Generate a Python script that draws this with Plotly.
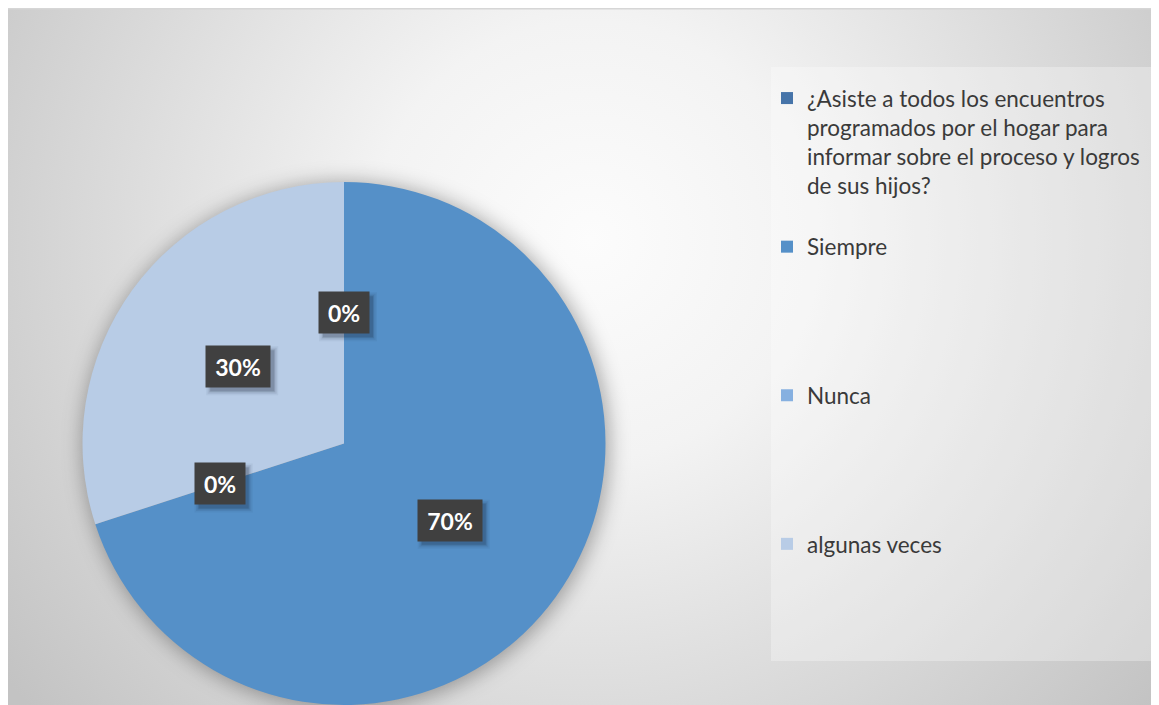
import base64
import math
import plotly.graph_objects as go

# ---- data ----
categories = [
    "¿Asiste a todos los encuentros programados por el hogar para informar sobre el proceso y logros de sus hijos?",
    "Siempre",
    "Nunca",
    "algunas veces",
]
legend_lines = [
    ["¿Asiste a todos los encuentros", "programados por el hogar para",
     "informar sobre el proceso y logros", "de sus hijos?"],
    ["Siempre"],
    ["Nunca"],
    ["algunas veces"],
]
values = [0, 70, 0, 30]
colors = ["#4674A9", "#5590C8", "#86B0E0", "#B8CCE6"]

W, H = 1159, 705
OFF = 8  # page body margin: figure is drawn starting 8px right/down
def fx(px):  # reference pixel x -> paper
    return (px - OFF) / W
def fy(py):  # reference pixel y -> paper
    return 1 - (py - OFF) / H

# pie domain (ref px)
PX0, PX1, PY0, PY1 = 82, 606, 182, 705
cx_px = (PX0 + PX1) / 2
cy_px = (PY0 + PY1) / 2
R = min(PX1 - PX0, PY1 - PY0) / 2

LINES_PER_ITEM = 5
names = []
for lines in legend_lines:
    pad = ["&#160;"] * (LINES_PER_ITEM - len(lines))
    names.append("<br>".join(['<span style="font-size:22.5px">%s</span>' % l for l in lines] + pad))

# background svg: radial gradient + pie shadow (covers full figure)
aw, ah = W, H
svg = f'''<svg xmlns="http://www.w3.org/2000/svg" width="{aw}" height="{ah}" viewBox="0 0 {aw} {ah}">
<defs>
<radialGradient id="g" gradientUnits="userSpaceOnUse" cx="{590 - OFF}" cy="{240 - OFF}" r="730">
<stop offset="0" stop-color="#fcfcfc"/><stop offset="0.3" stop-color="#f3f3f3"/><stop offset="1" stop-color="#c3c3c3"/>
</radialGradient>
<filter id="b" x="-30%" y="-30%" width="160%" height="160%"><feGaussianBlur stdDeviation="10"/></filter>
</defs>
<rect width="{aw}" height="{ah}" fill="url(#g)"/>
<rect x="0" y="0" width="{aw}" height="1.5" fill="#d6d6d6"/>
<circle cx="{cx_px - OFF + 2}" cy="{cy_px - OFF + 2}" r="{R + 2}" fill="#000" fill-opacity="0.32" filter="url(#b)"/>
</svg>'''
src = "data:image/svg+xml;base64," + base64.b64encode(svg.encode("utf-8")).decode()

fig = go.Figure()
fig.add_trace(go.Pie(
    labels=names,
    values=values,
    marker=dict(colors=colors, line=dict(width=0)),
    sort=False,
    direction="clockwise",
    rotation=0,
    textinfo="none",
    hovertext=categories,
    hoverinfo="text+percent",
    domain=dict(x=[fx(PX0), fx(PX1)], y=[fy(PY1), fy(PY0)]),
))

# data labels (dark boxes) at half radius, mid-angle of each slice
total = sum(values)
cum = 0
shapes = []
annotations = []
for v in values:
    pct = v / total
    mid = (cum + pct / 2) * 2 * math.pi
    cum += pct
    lx = cx_px + 0.5 * R * math.sin(mid)
    ly = cy_px - 0.5 * R * math.cos(mid)
    txt = f"{round(pct * 100)}%"
    bw = 50 if len(txt) == 2 else 64
    bh = 41
    xp, yp = fx(lx), fy(ly)
    # soft shadow (offset down-right)
    for grow, op in [(4, 0.05), (2.5, 0.08), (1, 0.12), (0, 0.15)]:
        shapes.append(dict(type="rect", xref="paper", yref="paper", xsizemode="pixel", ysizemode="pixel",
                           xanchor=xp, yanchor=yp,
                           x0=-bw / 2 + 4 - grow, x1=bw / 2 + 4 + grow,
                           y0=-bh / 2 - 4 - grow, y1=bh / 2 - 4 + grow,
                           fillcolor=f"rgba(20,30,50,{op})", line=dict(width=0), layer="above"))
    annotations.append(dict(x=xp, y=yp, xref="paper", yref="paper", xanchor="center", yanchor="middle",
                            text=f"<b>{txt}</b>", showarrow=False,
                            font=dict(family="Lato, Open Sans, sans-serif", size=23, color="#ffffff"),
                            bgcolor="#404040", width=bw, height=bh, borderpad=0, valign="middle"))

# legend background box
shapes.insert(0, dict(type="rect", xref="paper", yref="paper", x0=fx(771), x1=fx(1153), y0=fy(661), y1=fy(67),
                      fillcolor="rgba(255,255,255,0.3)", line=dict(width=0), layer="below"))

fig.update_layout(
    width=W, height=H,
    margin=dict(l=0, r=0, t=0, b=0),
    paper_bgcolor="#ffffff",
    plot_bgcolor="rgba(0,0,0,0)",
    images=[dict(source=src, xref="paper", yref="paper", x=0, y=1, sizex=1, sizey=1,
                 xanchor="left", yanchor="top", sizing="stretch", layer="below")],
    shapes=shapes,
    annotations=annotations,
    showlegend=True,
    legend=dict(x=fx(767), y=fy(77), xanchor="left", yanchor="top", valign="top",
                bgcolor="rgba(0,0,0,0)", font=dict(family="Lato, Open Sans, sans-serif", size=22.4, color="#3a3a3a"),
                traceorder="normal"),
    font=dict(family="Lato, Open Sans, sans-serif"),
)

fig.write_html("out.html")
